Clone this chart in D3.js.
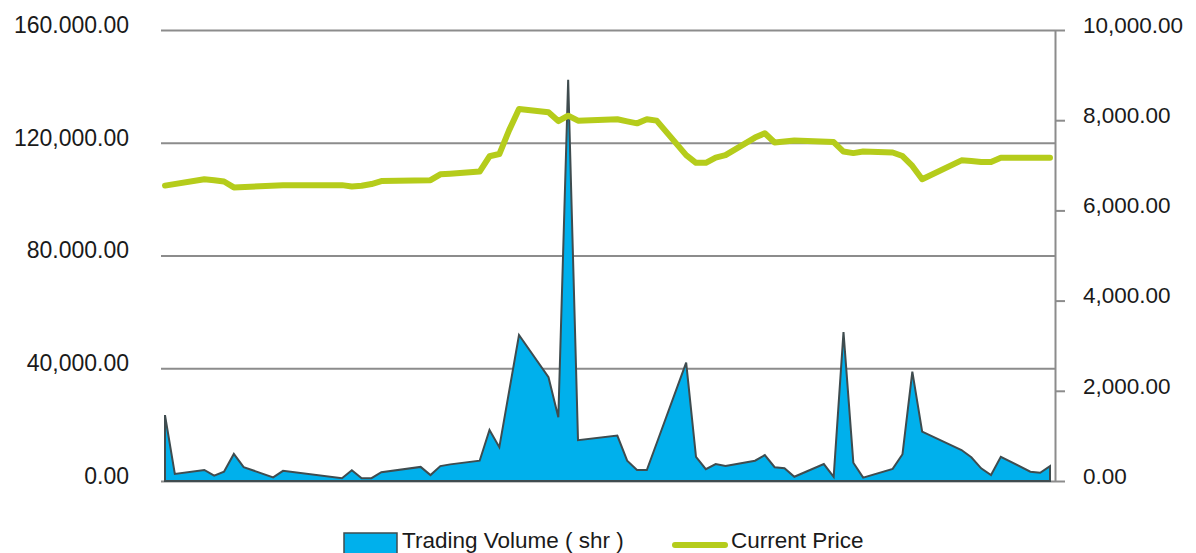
<!DOCTYPE html>
<html>
<head>
<meta charset="utf-8">
<script src="https://cdn.jsdelivr.net/npm/d3@7/dist/d3.min.js"></script>
<style>
  html, body { margin: 0; padding: 0; background: #fff; }
  svg { display: block; font-family: "Liberation Sans", Arial, sans-serif; }
</style>
</head>
<body>
<svg id="chart" width="1196" height="553"></svg>
<script>
// ---- data (calendar day offsets from first trading day) ----
const volumeDays = [0,1,4,5,6,7,8,11,12,18,19,20,21,22,26,27,28,29,32,33,34,36,39,40,41,42,46,47,48,49,50,53,54,55,56,57,60,61,62,63,64,67,68,69,70,71,74,75,76,77,81,82,83,84,85,88,89,90];
const volumes = [23400,2500,3900,1900,3300,9600,4900,1300,3600,1000,3800,1000,1000,3100,5000,2100,5300,5900,7200,18100,12000,51800,36800,22600,142300,14500,16100,7200,3900,3900,13400,42000,8600,4200,6000,5300,7200,9200,4900,4500,1500,6000,1500,52800,6500,1200,4300,9500,38800,17500,11000,8400,4500,2100,8600,3300,2900,5300];

const priceDays = [0,4,5,6,7,12,18,19,20,21,22,27,28,29,32,33,34,35,36,39,40,41,42,46,47,48,49,50,53,54,55,56,57,60,61,62,64,68,69,70,71,74,75,76,77,81,82,83,84,85,90];
const prices = [6550,6690,6670,6640,6510,6560,6560,6530,6545,6585,6650,6670,6800,6815,6860,7200,7250,7780,8250,8175,7980,8100,7990,8020,7975,7930,8020,7990,7225,7055,7055,7170,7225,7615,7710,7505,7550,7515,7305,7270,7305,7285,7205,6985,6690,7110,7095,7075,7075,7170,7170];

const leftTicks = [0, 40000, 80000, 120000, 160000];
const leftTickLabels = ["0.00", "40,000.00", "80.000.00", "120,000.00", "160.000.00"];
const rightTicks = [0, 2000, 4000, 6000, 8000, 10000];
const rightTickLabels = ["0.00", "2,000.00", "4,000.00", "6,000.00", "8,000.00", "10,000.00"];
const seriesNames = ["Trading Volume ( shr )", "Current Price"];

// ---- layout ----
const svg = d3.select("#chart");
const plotLeft = 161, plotRight = 1055, plotTop = 30, plotBottom = 481;
const x = d3.scaleLinear().domain([0, 90]).range([165, 1050]);
const yVol = d3.scaleLinear().domain([0, 160000]).range([plotBottom, plotTop]);
const yPrice = d3.scaleLinear().domain([0, 10000]).range([plotBottom, plotTop]);

const gridColor = "#8c8c8c";
const textColor = "#1a1a1a";

// left axis with gridlines
const leftAxis = d3.axisLeft(yVol)
  .tickValues(leftTicks)
  .tickSize(-(plotRight - plotLeft))
  .tickPadding(32)
  .tickFormat((d, i) => leftTickLabels[i]);
const gL = svg.append("g").attr("transform", `translate(${plotLeft},0)`).call(leftAxis);
gL.select(".domain").remove();
gL.selectAll(".tick line").attr("stroke", gridColor).attr("stroke-width", 2);
gL.selectAll(".tick text")
  .attr("fill", textColor)
  .style("font-size", "23px")
  .attr("dy", "0.1em");

// right axis
const rightAxis = d3.axisRight(yPrice)
  .tickValues(rightTicks)
  .tickSize(10)
  .tickSizeOuter(0)
  .tickPadding(18)
  .tickFormat((d, i) => rightTickLabels[i]);
const gR = svg.append("g").attr("transform", `translate(${plotRight},0)`).call(rightAxis);
gR.select(".domain").attr("stroke", gridColor).attr("stroke-width", 2);
gR.selectAll(".tick line").attr("stroke", gridColor).attr("stroke-width", 2);
gR.selectAll(".tick text")
  .attr("fill", textColor)
  .style("font-size", "22.5px")
  .attr("dy", "0.1em");

// volume area
const volData = volumeDays.map((d, i) => ({ d, v: volumes[i] }));
const area = d3.area()
  .x(p => x(p.d))
  .y0(yVol(0))
  .y1(p => yVol(p.v));
svg.append("path")
  .datum(volData)
  .attr("d", area)
  .attr("fill", "#00b0ec")
  .attr("stroke", "#3f4c4f")
  .attr("stroke-width", 2)
  .attr("stroke-linejoin", "miter");

// price line
const priceData = priceDays.map((d, i) => ({ d, v: prices[i] }));
const line = d3.line().x(p => x(p.d)).y(p => yPrice(p.v));
svg.append("path")
  .datum(priceData)
  .attr("d", line)
  .attr("fill", "none")
  .attr("stroke", "#b5cc1b")
  .attr("stroke-width", 6)
  .attr("stroke-linejoin", "round")
  .attr("stroke-linecap", "round");

// legend
const lg = svg.append("g");
lg.append("rect")
  .attr("x", 344).attr("y", 533).attr("width", 53).attr("height", 22)
  .attr("fill", "#00b0ec").attr("stroke", "#3f4c4f").attr("stroke-width", 1.5);
lg.append("text")
  .attr("x", 402).attr("y", 548)
  .attr("fill", textColor).style("font-size", "22.5px")
  .text(seriesNames[0]);
lg.append("line")
  .attr("x1", 675).attr("x2", 725).attr("y1", 545).attr("y2", 545)
  .attr("stroke", "#b5cc1b").attr("stroke-width", 6).attr("stroke-linecap", "round");
lg.append("text")
  .attr("x", 731).attr("y", 548)
  .attr("fill", textColor).style("font-size", "22.5px")
  .text(seriesNames[1]);
</script>
</body>
</html>
